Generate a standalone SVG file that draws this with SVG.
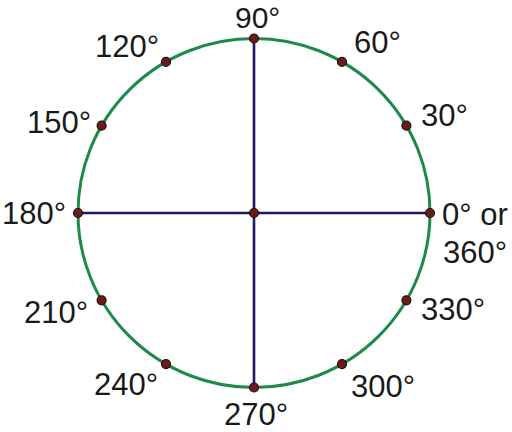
<svg xmlns="http://www.w3.org/2000/svg" width="512" height="432" viewBox="0 0 512 432">
<style>
.lbl{font-family:"Liberation Sans",Arial,sans-serif;font-size:31px;fill:#1a1a1a}
.axis{stroke:#1c1a6a;stroke-width:2.6;fill:none}
.dot{fill:#6a1c1c;stroke:#2a0c0c;stroke-width:1.2}
</style>
<rect width="512" height="432" fill="#ffffff"/>
<g id="circle"><ellipse cx="254" cy="213" rx="176" ry="174.5" fill="none" stroke="#1e8a4a" stroke-width="3"/></g>
<g id="connectors">
<line class="axis" x1="78" y1="213" x2="430" y2="213"/>
<line class="axis" x1="254" y1="38.5" x2="254" y2="387.5"/>
</g>
<g id="dots">
<circle class="dot" cx="254" cy="213" r="4.5"/>
<circle class="dot" cx="430" cy="213" r="4.5"/>
<circle class="dot" cx="406.4" cy="125.7" r="4.5"/>
<circle class="dot" cx="342" cy="61.9" r="4.5"/>
<circle class="dot" cx="254" cy="38.5" r="4.5"/>
<circle class="dot" cx="166" cy="61.9" r="4.5"/>
<circle class="dot" cx="101.6" cy="125.7" r="4.5"/>
<circle class="dot" cx="78" cy="213" r="4.5"/>
<circle class="dot" cx="101.6" cy="300.3" r="4.5"/>
<circle class="dot" cx="166" cy="364.1" r="4.5"/>
<circle class="dot" cx="254" cy="387.5" r="4.5"/>
<circle class="dot" cx="342" cy="364.1" r="4.5"/>
<circle class="dot" cx="406.4" cy="300.3" r="4.5"/>
</g>
<g id="labels">
<text class="lbl" x="235" y="28" style="font-size:30px">90°</text>
<text class="lbl" x="354" y="53">60°</text>
<text class="lbl" x="421" y="126">30°</text>
<text class="lbl" x="442" y="225">0° or</text>
<text class="lbl" x="443" y="263">360°</text>
<text class="lbl" x="421" y="320">330°</text>
<text class="lbl" x="351" y="397">300°</text>
<text class="lbl" x="224" y="425">270°</text>
<text class="lbl" x="94" y="395">240°</text>
<text class="lbl" x="24" y="323">210°</text>
<text class="lbl" x="2" y="224">180°</text>
<text class="lbl" x="27" y="133">150°</text>
<text class="lbl" x="95" y="57">120°</text>
</g>
</svg>
